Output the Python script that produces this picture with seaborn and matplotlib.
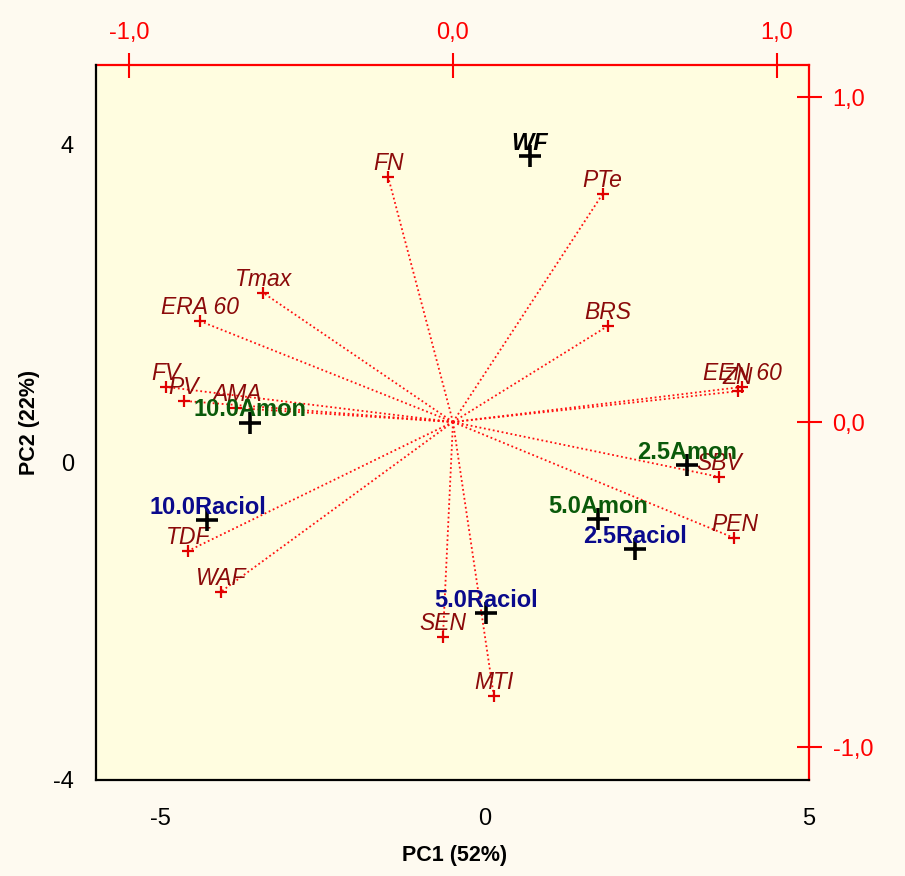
import matplotlib
matplotlib.use("Agg")
import matplotlib.pyplot as plt
import seaborn as sns
import pandas as pd

# ---- data: variable loadings (secondary red axes) ----
var_names = ["FN", "PTe", "Tmax", "ERA 60", "BRS", "FV", "PV", "AMA",
             "EEN 60", "ZN", "SBV", "PEN", "TDF", "WAF", "SEN", "MTI"]
load_pc1 = [-0.200, 0.462, -0.585, -0.782, 0.477, -0.886, -0.831, -0.668,
            0.892, 0.880, 0.822, 0.868, -0.818, -0.717, -0.031, 0.126]
load_pc2 = [0.754, 0.702, 0.397, 0.311, 0.295, 0.108, 0.065, 0.043,
            0.108, 0.095, -0.169, -0.357, -0.397, -0.523, -0.662, -0.843]

# ---- data: observation scores (primary black axes) ----
obs_names = ["WF", "10.0Amon", "2.5Amon", "5.0Amon", "2.5Raciol",
             "10.0Raciol", "5.0Raciol"]
score_pc1 = [0.69, -3.63, 3.12, 1.75, 2.31, -4.28, 0.02]
score_pc2 = [3.86, 0.50, -0.03, -0.72, -1.09, -0.73, -1.90]
obs_group = ["WF", "Amon", "Amon", "Amon", "Raciol", "Raciol", "Raciol"]

score_ticks = {"x": [-5, 0, 5], "y": [-4, 0, 4]}
load_ticks = [-1.0, 0.0, 1.0]
load_tick_labels = ["-1,0", "0,0", "1,0"]
x_title = "PC1 (52%)"
y_title = "PC2 (22%)"

group_colors = {"WF": "black", "Amon": "#0A5A0A", "Raciol": "#0A0A8C"}

sns.set_style("white")
plt.rcParams['font.family'] = ['Liberation Sans', 'DejaVu Sans']
plt.rcParams['axes.unicode_minus'] = False
plt.rcParams['text.color'] = 'black'
plt.rcParams['axes.labelcolor'] = 'black'

fig = plt.figure(figsize=(9.05, 8.76), dpi=100, facecolor='#FEFAF0')
pos = [96 / 905, 1 - 780 / 876, (809 - 96) / 905, (780 - 65) / 876]

# loadings axes (behind)
axL = fig.add_axes(pos)
axL.set_facecolor('#FFFDE0')
axL.set_xlim(-1.1015, 1.0985)
axL.set_ylim(-1.1015, 1.0985)
axL.xaxis.tick_top()
axL.yaxis.tick_right()
axL.set_xticks(load_ticks)
axL.set_xticklabels(load_tick_labels)
axL.set_yticks(load_ticks)
axL.set_yticklabels(load_tick_labels)
axL.tick_params(axis='x', colors='red', direction='inout', length=18, width=1.5,
                labelsize=17, pad=6)
axL.tick_params(axis='y', colors='red', direction='inout', length=18, width=1.5,
                labelsize=17, pad=8)
for side in ['left', 'bottom']:
    axL.spines[side].set_visible(False)
for side in ['top', 'right']:
    axL.spines[side].set_color('red')
    axL.spines[side].set_linewidth(1.6)

dfL = pd.DataFrame({"name": var_names, "PC1": load_pc1, "PC2": load_pc2})
for x, y in zip(dfL.PC1, dfL.PC2):
    axL.plot([0, x], [0, y], color='#FF1010', ls=(0, (1, 1.5)), lw=1.3, zorder=2)
sns.scatterplot(data=dfL, x="PC1", y="PC2", marker='+', color='#E00000', s=70,
                linewidth=1.6, ax=axL, zorder=3, legend=False)
for n, x, y in zip(dfL.name, dfL.PC1, dfL.PC2):
    axL.annotate(n, (x, y), xytext=(0, 9.5), textcoords='offset points',
                 ha='center', va='center', color='#8B0A0A', style='italic',
                 fontsize=16.5, zorder=4)
axL.set_xlabel("")
axL.set_ylabel("")

# scores axes (overlay)
axS = fig.add_axes(pos)
axS.patch.set_alpha(0)
axS.set_xlim(-6, 5)
axS.set_ylim(-4, 5)
dfS = pd.DataFrame({"name": obs_names, "PC1": score_pc1, "PC2": score_pc2,
                    "group": obs_group})
sns.scatterplot(data=dfS, x="PC1", y="PC2", marker='+', color='black', s=230,
                linewidth=2.6, ax=axS, zorder=5, legend=False)
for n, x, y, g in zip(dfS.name, dfS.PC1, dfS.PC2, dfS.group):
    axS.annotate(n, (x, y), xytext=(0, 9), textcoords='offset points',
                 ha='center', va='center', color=group_colors[g],
                 fontweight='bold', style='italic' if g == "WF" else 'normal',
                 fontsize=17, zorder=6)
axS.set_xticks(score_ticks["x"])
axS.set_yticks(score_ticks["y"])
axS.tick_params(axis='both', colors='black', labelcolor='black',
                direction='inout', length=18, width=1.5, labelsize=17)
axS.tick_params(axis='x', pad=11)
axS.tick_params(axis='y', pad=7)
for side in ['top', 'right']:
    axS.spines[side].set_visible(False)
for side in ['left', 'bottom']:
    axS.spines[side].set_color('black')
    axS.spines[side].set_linewidth(1.6)
axS.set_xlabel(x_title, fontweight='bold', fontsize=15.5, color='black')
axS.set_ylabel(y_title, fontweight='bold', fontsize=15.5, color='black')
axS.xaxis.set_label_coords((455 - 96) / 713, (780 - 856) / 715)
axS.xaxis.label.set_va('center')
axS.yaxis.set_label_coords((30 - 96) / 713, 0.5)
axS.yaxis.label.set_va('center')

fig.savefig("out.png", dpi=100, facecolor=fig.get_facecolor())
